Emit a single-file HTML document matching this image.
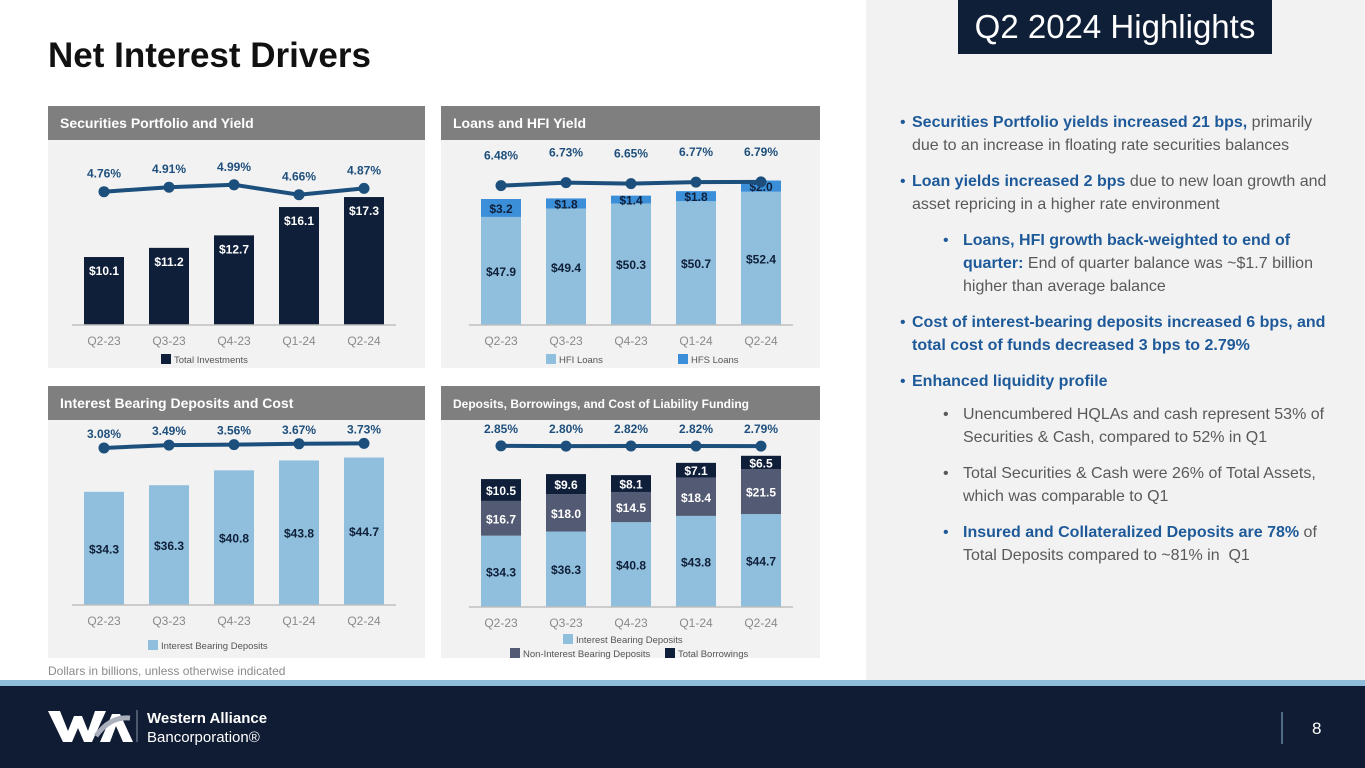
<!DOCTYPE html>
<html><head><meta charset="utf-8"><style>
*{margin:0;padding:0;box-sizing:border-box}
body{width:1365px;height:768px;position:relative;overflow:hidden;background:#fff;font-family:"Liberation Sans",Arial,sans-serif}
.abs{position:absolute}
#title{left:48px;top:36px;font-size:35px;font-weight:bold;color:#111}
#right{left:866px;top:0;width:499px;height:680px;background:#f2f2f2}
#hl{left:958px;top:0;width:314px;height:54px;background:#0f1f38;color:#fff;font-size:33px;line-height:54px;text-align:center}
.b{position:absolute;font-size:16px;line-height:23px;color:#595959;width:420px}
.b .dot{position:absolute;left:-12px;color:#1e5a99}
.b strong{color:#1e5a99}
#note{left:48px;top:664px;font-size:12px;color:#8a8a8a}
#strip{left:0;top:680px;width:1365px;height:6px;background:#8fbcd9}
#footer{left:0;top:686px;width:1365px;height:82px;background:#0f1c33}
</style></head><body>
<div class="abs" id="title">Net Interest Drivers</div>
<div class="abs" id="right"></div>
<div class="abs" id="hl">Q2 2024 Highlights</div>

<div class="b" style="left:912px;top:111px"><span class="dot">•</span><strong>Securities Portfolio yields increased 21 bps,</strong> primarily due to an increase in floating rate securities balances</div>
<div class="b" style="left:912px;top:170px"><span class="dot">•</span><strong>Loan yields increased 2 bps</strong> due to new loan growth and asset repricing in a higher rate environment</div>
<div class="b" style="left:963px;top:229px;width:375px"><span class="dot" style="left:-20px">•</span><strong>Loans, HFI growth back-weighted to end of quarter:</strong> End of quarter balance was ~$1.7 billion higher than average balance</div>
<div class="b" style="left:912px;top:311px"><span class="dot">•</span><strong>Cost of interest-bearing deposits increased 6 bps, and total cost of funds decreased 3 bps to 2.79%</strong></div>
<div class="b" style="left:912px;top:370px"><span class="dot">•</span><strong>Enhanced liquidity profile</strong></div>
<div class="b" style="left:963px;top:403px;width:380px"><span class="dot" style="left:-20px;color:#595959">•</span>Unencumbered HQLAs and cash represent 53% of Securities &amp; Cash, compared to 52% in Q1</div>
<div class="b" style="left:963px;top:462px;width:380px"><span class="dot" style="left:-20px;color:#595959">•</span>Total Securities &amp; Cash were 26% of Total Assets, which was comparable to Q1</div>
<div class="b" style="left:963px;top:521px;width:380px"><span class="dot" style="left:-20px">•</span><strong>Insured and Collateralized Deposits are 78%</strong> of Total Deposits compared to ~81% in &nbsp;Q1</div>

<div class="abs" id="note">Dollars in billions, unless otherwise indicated</div>
<div class="abs" id="strip"></div>
<div class="abs" id="footer">
<svg width="1365" height="82" style="position:absolute;left:0;top:0">
<polygon points="48,25 60,25 68,45 74,30 82,30 88,45 95,25 106,25 92,56 84,56 78,42 72,56 63,56" fill="#fff"/>
<polygon points="100,56 112,28 120,28 133,56 123,56 116,40 110,56" fill="#fff"/>
<path d="M96,50 Q110,30 130,32" stroke="#a9b0bc" stroke-width="5" fill="none"/>
<line x1="137" y1="24" x2="137" y2="56" stroke="#8a93a3" stroke-width="1"/>
<text x="147" y="37" fill="#fff" font-size="15" font-weight="bold" font-family="Liberation Sans">Western Alliance</text>
<text x="147" y="56" fill="#fff" font-size="15" font-family="Liberation Sans">Bancorporation®</text>
<line x1="1282" y1="26" x2="1282" y2="58" stroke="#8fbcd9" stroke-width="1"/>
<text x="1312" y="48" fill="#fff" font-size="17" font-family="Liberation Sans">8</text>
</svg></div>

<svg id="charts" class="abs" style="left:0;top:0" width="1365" height="768"></svg>

<script>
const categories=["Q2-23","Q3-23","Q4-23","Q1-24","Q2-24"];
const securities=[10.1,11.2,12.7,16.1,17.3];
const securitiesYield=[4.76,4.91,4.99,4.66,4.87];
const hfiLoans=[47.9,49.4,50.3,50.7,52.4];
const hfsLoans=[3.2,1.8,1.4,1.8,2.0];
const loanYield=[6.48,6.73,6.65,6.77,6.79];
const ibDeposits=[34.3,36.3,40.8,43.8,44.7];
const ibCost=[3.08,3.49,3.56,3.67,3.73];
const nibDeposits=[16.7,18.0,14.5,18.4,21.5];
const borrowings=[10.5,9.6,8.1,7.1,6.5];
const fundingCost=[2.85,2.80,2.82,2.82,2.79];

const NS="http://www.w3.org/2000/svg";
const svg=document.getElementById('charts');
function mk(tag,attrs,parent){const e=document.createElementNS(NS,tag);for(const k in attrs)e.setAttribute(k,attrs[k]);(parent||svg).appendChild(e);return e;}
function txt(x,y,s,size,fill,weight,anchor,parent){const t=mk('text',{x:x,y:y,'font-size':size,fill:fill,'font-weight':weight||'normal','text-anchor':anchor||'middle','font-family':'Liberation Sans, Arial, sans-serif'},parent);t.textContent=s;return t;}

function panel(x,y,w,h,title,tsize,name){
  const g=mk('g',{});
  
  
  mk('rect',{x:x,y:y+34,width:w,height:h-34,fill:'#f2f2f2'},g);
  mk('rect',{x:x,y:y,width:w,height:34,fill:'#7f7f7f'},g);
  txt(x+12,y+22,title,tsize,'#fff','bold','start',g);
  return g;
}
function chart(o){
  const g=panel(o.px,o.py,o.pw,o.ph,o.title,o.tsize,o.name);
  const xs=i=>o.x0+i*65;
  const ys=v=>o.base-(v-o.vmin)*o.k;
  categories.forEach((c,i)=>{
    let acc=0;
    o.series.forEach((se,si)=>{
      const v=se.data[i];
      const y0=acc===0?o.base:ys(acc);const y1=ys(acc+v);acc+=v;
      const r=mk('rect',{x:xs(i)-20,y:y1,width:40,height:y0-y1,fill:se.color},g);
      
      
      const ly=se.labelTop?y1+18:(y0+y1)/2+5;
      const lab=txt(xs(i),ly,'$'+v.toFixed(1),12,se.labelColor,'bold','middle',g);
      
      
    });
    const cl=txt(xs(i),o.base+20,c,12,'#8a8a8a','normal','middle',g);
    
    
  });
  mk('line',{x1:o.x0-32,x2:o.x0+4*65+32,y1:o.base,y2:o.base,stroke:'#bfbfbf','stroke-width':1.5},g);
  const ly=v=>o.lineY-(v-o.lmid)*o.lk;
  const pts=o.line.map((v,i)=>xs(i)+','+ly(v)).join(' ');
  const pl=mk('polyline',{points:pts,fill:'none',stroke:'#1c4f7c','stroke-width':4},g);
  
  
  o.line.forEach((v,i)=>{
    const c=mk('circle',{cx:xs(i),cy:ly(v),r:5.5,fill:'#1c4f7c'},g);
    
    
    const t=txt(xs(i),ly(v)-o.loff,v.toFixed(2)+'%',12,'#1e4f7c','bold','middle',g);
    
    
  });
  o.legend.forEach(l=>{
    mk('rect',{x:l.x,y:l.y-9,width:10,height:10,fill:l.color},g);
    const t=txt(l.x+13,l.y,l.text,9.5,'#555','normal','start',g);
    
    
  });
}

chart({name:'securities-chart',px:48,py:106,pw:377,ph:262,title:'Securities Portfolio and Yield',tsize:14,x0:104,base:325,vmin:1.94,k:8.33,
  series:[{key:'investments',data:securities,color:'#0f1f3a',labelColor:'#fff',labelTop:true}],
  line:securitiesYield,lineY:189,lmid:4.85,lk:30,loff:14,
  legend:[{x:161,y:363,color:'#0f1f3a',text:'Total Investments'}]});

chart({name:'loans-chart',px:441,py:106,pw:379,ph:262,title:'Loans and HFI Yield',tsize:14,x0:501,base:325,vmin:28.6,k:5.6,
  series:[{key:'hfi',data:hfiLoans,color:'#8fbfdc',labelColor:'#0f1f3a'},{key:'hfs',data:hfsLoans,color:'#3a8fd8',labelColor:'#0f1f3a'}],
  line:loanYield,lineY:183,lmid:6.7,lk:12,loff:26,
  legend:[{x:546,y:363,color:'#8fbfdc',text:'HFI Loans'},{x:678,y:363,color:'#3a8fd8',text:'HFS Loans'}]});

chart({name:'ib-deposits-chart',px:48,py:386,pw:377,ph:272,title:'Interest Bearing Deposits and Cost',tsize:14,x0:104,base:605,vmin:0,k:3.3,
  series:[{key:'ib-deposits',data:ibDeposits,color:'#8fbfdc',labelColor:'#0f1f3a'}],
  line:ibCost,lineY:445,lmid:3.5,lk:7,loff:10,
  legend:[{x:148,y:649,color:'#8fbfdc',text:'Interest Bearing Deposits'}]});

chart({name:'funding-chart',px:441,py:386,pw:379,ph:272,title:'Deposits, Borrowings, and Cost of Liability Funding',tsize:12,x0:501,base:607,vmin:0,k:2.08,
  series:[{key:'ib-deposits',data:ibDeposits,color:'#8fbfdc',labelColor:'#0f1f3a'},{key:'nib-deposits',data:nibDeposits,color:'#535a73',labelColor:'#fff'},{key:'borrowings',data:borrowings,color:'#0f1f3a',labelColor:'#fff'}],
  line:fundingCost,lineY:446,lmid:2.82,lk:5,loff:13,
  legend:[{x:563,y:643,color:'#8fbfdc',text:'Interest Bearing Deposits'},{x:510,y:657,color:'#535a73',text:'Non-Interest Bearing Deposits'},{x:665,y:657,color:'#0f1f3a',text:'Total Borrowings'}]});
</script>
</body></html>
